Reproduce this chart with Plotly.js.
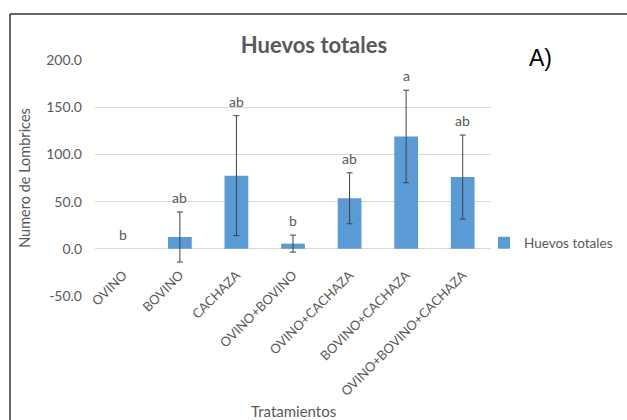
<!DOCTYPE html>
<html>
<head>
<meta charset="utf-8">
<script src="https://cdn.plot.ly/plotly-3.0.1.min.js"></script>
<style>html,body{margin:0;padding:0;background:#fff;}#chart{width:627px;height:420px;}</style>
</head>
<body>
<div id="chart"></div>
<script>
var categories = ["OVINO", "BOVINO", "CACHAZA", "OVINO+BOVINO", "OVINO+CACHAZA", "BOVINO+CACHAZA", "OVINO+BOVINO+CACHAZA"];
var values = [0, 12.5, 77.5, 5.5, 53.5, 119.0, 76.0];
var errors = [NaN, 26.5, 63.5, 9.0, 27.0, 49.0, 44.5];
var letters = ["b", "ab", "ab", "b", "ab", "a", "ab"];
var seriesName = "Huevos totales";
var yTickVals = [-50, 0, 50, 100, 150, 200];
var yTickText = ["-50.0", "0.0", "50.0", "100.0", "150.0", "200.0"];

var gray = "#595959";
var font = "Lato, 'Open Sans', sans-serif";

var trace = {
  type: "bar",
  x: categories,
  y: values,
  name: seriesName,
  marker: {color: "#5B9BD5"},
  width: 0.42,
  error_y: {type: "data", array: errors, visible: true, color: "#404040", thickness: 1, width: 3}
};

var annotations = categories.map(function (c, i) {
  return {
    x: c, y: values[i] + (errors[i] || 0), xref: "x", yref: "y",
    text: letters[i], showarrow: false, yanchor: "bottom", yshift: 4,
    font: {family: font, size: 14, color: gray}
  };
});
annotations.push({
  xref: "paper", yref: "paper", x: 0.5, y: -(411 - 296) / 236,
  text: "Tratamientos", showarrow: false, xanchor: "center", yanchor: "middle",
  font: {family: font, size: 15, color: gray}
});
annotations.push({
  xref: "paper", yref: "paper", x: (540 - 95) / 396, y: (296 - 58) / 236,
  text: "A)", showarrow: false, xanchor: "center", yanchor: "middle",
  font: {family: "Liberation Sans, Arial, sans-serif", size: 23, color: "#000"}
});

var layout = {
  width: 627, height: 420,
  margin: {l: 95, r: 136, t: 60, b: 124, autoexpand: false},
  paper_bgcolor: "#fff", plot_bgcolor: "#fff",
  title: {text: "<b>Huevos totales</b>", x: 314 / 627, xanchor: "center", y: 1 - 45 / 420, yanchor: "middle",
    font: {family: font, size: 22, color: gray}},
  showlegend: true,
  legend: {x: (484 - 95) / 396, xanchor: "left", y: (296 - 243) / 236, yanchor: "middle",
    itemwidth: 30, font: {family: font, size: 13.5, color: gray}, bgcolor: "rgba(0,0,0,0)"},
  xaxis: {type: "category", tickangle: -45, showgrid: false, showline: false, zeroline: false, ticks: "",
    anchor: "free", position: 0.135,
    tickfont: {family: font, size: 13, color: gray}},
  yaxis: {range: [-50, 200], tickvals: yTickVals, ticktext: yTickText, showline: false, gridcolor: "#d9d9d9",
    zeroline: true, zerolinecolor: "#d9d9d9", zerolinewidth: 1, ticks: "", ticklabelstandoff: 12,
    tickfont: {family: font, size: 14, color: gray},
    title: {text: "Numero de Lombrices", font: {family: font, size: 14.5, color: gray}, standoff: 12}},
  annotations: annotations,
  shapes: [
    {type: "line", xref: "paper", yref: "paper", x0: (10 - 95) / 396, x1: (627 - 95) / 396,
      y0: (296 - 14) / 236, y1: (296 - 14) / 236, line: {color: "#333", width: 1.5}},
    {type: "line", xref: "paper", yref: "paper", x0: (10 - 95) / 396, x1: (10 - 95) / 396,
      y0: (296 - 14) / 236, y1: (296 - 425) / 236, line: {color: "#333", width: 1.5}}
  ]
};

Plotly.newPlot("chart", [trace], layout, {displayModeBar: false, staticPlot: true});
</script>
</body>
</html>
